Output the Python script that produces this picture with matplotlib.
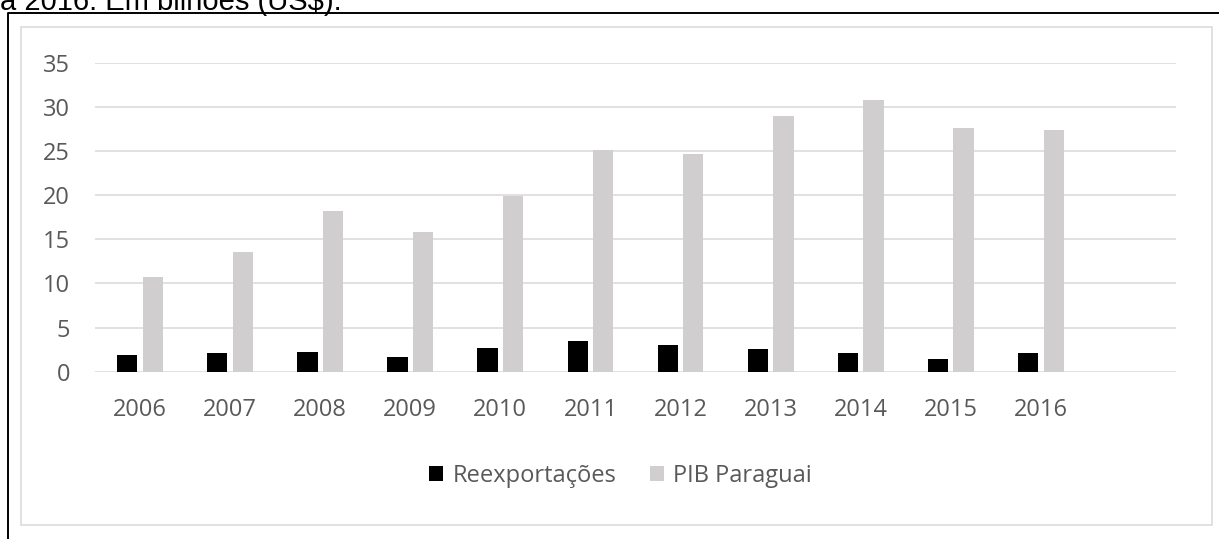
import matplotlib.pyplot as plt
from matplotlib.patches import Rectangle
from matplotlib.lines import Line2D
import numpy as np

years = ["2006", "2007", "2008", "2009", "2010", "2011", "2012", "2013", "2014", "2015", "2016"]
reexport = [1.93, 2.16, 2.27, 1.62, 2.72, 3.5, 3.03, 2.6, 2.16, 1.48, 2.16]
pib = [10.7, 13.6, 18.2, 15.8, 19.95, 25.1, 24.7, 29.0, 30.8, 27.6, 27.4]

W, H = 1219, 539
fig = plt.figure(figsize=(W / 100, H / 100), dpi=100)

# clipped caption line from the page above the chart
fig.text(0.5 / W, 1 - 9.5 / H, "a 2016. Em bilhões (US$).", family="Liberation Sans",
         fontsize=21, va="baseline", ha="left", color="black")

# outer black frame (left and top) and inner grey chart box
fig.add_artist(Line2D([8 / W, 8 / W, 1.0], [0, 1 - 13.3 / H, 1 - 13.3 / H],
                      transform=fig.transFigure, color="black", lw=1.4))
fig.add_artist(Rectangle((21 / W, 1 - 525 / H), (1212 - 21) / W, (525 - 27) / H,
                         transform=fig.transFigure, fill=False, edgecolor="#D9D9D9", lw=1.1))

ax = fig.add_axes([95 / W, 1 - 371.7 / H, (1176 - 95) / W, (371.7 - 63) / H])

x = np.arange(len(years))
w = 0.225
ax.bar(x - 0.142, reexport, w, color="black", label="Reexportações", zorder=3)
ax.bar(x + 0.142, pib, w, color="#D0CECE", label="PIB Paraguai", zorder=3)

ax.set_xlim(-0.5, 11.5)
ax.set_ylim(0, 35)
ax.set_yticks(range(0, 36, 5))
ax.set_xticks(x)
ax.set_xticklabels(years)
ax.yaxis.grid(True, color="#D9D9D9", lw=1.1)
ax.set_axisbelow(True)
for s in ax.spines.values():
    s.set_visible(False)
ax.tick_params(axis="both", length=0, labelsize=17, labelcolor="#595959")
ax.tick_params(axis="y", pad=18)
ax.tick_params(axis="x", pad=19)
for lab in ax.get_xticklabels() + ax.get_yticklabels():
    lab.set_family("Open Sans")

leg = fig.legend(loc="center", bbox_to_anchor=(620.5 / W, 1 - 476 / H), ncol=2, frameon=False,
                 prop={"family": "Open Sans", "size": 17}, handlelength=0.6, handleheight=0.6,
                 handletextpad=0.4, columnspacing=1.4, borderaxespad=0)
for t in leg.get_texts():
    t.set_color("#595959")

fig.savefig("out.png", dpi=100)
